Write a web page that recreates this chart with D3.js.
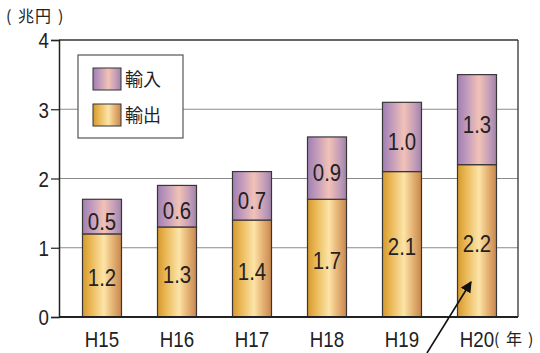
<!DOCTYPE html>
<html>
<head>
<meta charset="utf-8">
<script src="https://cdn.jsdelivr.net/npm/d3@7"></script>
<style>
  html, body { margin: 0; padding: 0; background: #fff; }
  svg { display: block; }
  text { font-family: "Liberation Sans", Arial, sans-serif; fill: #222; }
  .cjk { font-family: "Noto Sans CJK JP", sans-serif; }
</style>
</head>
<body>
<svg id="chart" width="540" height="353"></svg>
<script>
// Trade values (trillion yen) by fiscal year
const years = ["H15", "H16", "H17", "H18", "H19", "H20"];
const exports = [1.2, 1.3, 1.4, 1.7, 2.1, 2.2];
const imports = [0.5, 0.6, 0.7, 0.9, 1.0, 1.3];
const yTicks = [0, 1, 2, 3, 4];

const svg = d3.select("#chart");
const plotL = 59, plotR = 518, plotT = 40, plotB = 317;
const squeeze = 0.85; // horizontal condensing of numeric labels

const x = d3.scaleBand().domain(years).range([64.5, 514.5]).paddingInner(0.48).paddingOuter(0.24);
const y = d3.scaleLinear().domain([0, 4]).range([plotB, plotT]);

// Gradients for the bar fills
const defs = svg.append("defs");
function grad(id, stops) {
  const g = defs.append("linearGradient").attr("id", id).attr("x1", "0%").attr("x2", "100%").attr("y1", "0%").attr("y2", "0%");
  stops.forEach(([o, c]) => g.append("stop").attr("offset", o).attr("stop-color", c));
}
grad("gExp", [["0%", "#d49a2c"], ["20%", "#e9b653"], ["55%", "#fce4a8"], ["75%", "#e8b878"], ["100%", "#c8864e"]]);
grad("gImp", [["0%", "#9f80b2"], ["25%", "#c49cbc"], ["55%", "#f2c2b6"], ["80%", "#c8a0b8"], ["100%", "#a084ac"]]);

// Gridlines
svg.append("g").selectAll("line").data(yTicks.filter(d => d > 0 && d < 4)).join("line")
  .attr("x1", plotL).attr("x2", plotR)
  .attr("y1", d => y(d)).attr("y2", d => y(d))
  .attr("stroke", "#8a8a8a").attr("stroke-width", 1.2);

// Frame
svg.append("line").attr("x1", plotL).attr("x2", plotR).attr("y1", plotT).attr("y2", plotT).attr("stroke", "#333").attr("stroke-width", 1.3);
svg.append("line").attr("x1", plotR).attr("x2", plotR).attr("y1", plotT).attr("y2", plotB).attr("stroke", "#333").attr("stroke-width", 1.3);

// Legend
const lg = svg.append("g");
lg.append("rect").attr("x", 78).attr("y", 55).attr("width", 105).attr("height", 83)
  .attr("fill", "#fff").attr("stroke", "#555").attr("stroke-width", 1.2);
const legendItems = [["輸入", "url(#gImp)", 68], ["輸出", "url(#gExp)", 104]];
legendItems.forEach(([label, fill, yy]) => {
  lg.append("rect").attr("x", 93).attr("y", yy).attr("width", 28).attr("height", 22)
    .attr("fill", fill).attr("stroke", "#333").attr("stroke-width", 1);
  lg.append("text").attr("class", "cjk").attr("x", 125).attr("y", yy + 18)
    .attr("font-size", 18).text(label);
});

// Stacked bars
const data = years.map((yr, i) => ({ yr, exp: exports[i], imp: imports[i] }));
const bars = svg.append("g").selectAll("g").data(data).join("g");
bars.append("rect")
  .attr("x", d => x(d.yr)).attr("width", x.bandwidth())
  .attr("y", d => y(d.exp)).attr("height", d => y(0) - y(d.exp))
  .attr("fill", "url(#gExp)").attr("stroke", "#3a3636").attr("stroke-width", 1.2);
bars.append("rect")
  .attr("x", d => x(d.yr)).attr("width", x.bandwidth())
  .attr("y", d => y(d.exp + d.imp)).attr("height", d => y(d.exp) - y(d.exp + d.imp))
  .attr("fill", "url(#gImp)").attr("stroke", "#3a3636").attr("stroke-width", 1.2);
const cx = d => x(d.yr) + x.bandwidth() / 2;
bars.append("text")
  .attr("transform", d => `translate(${cx(d)},${(y(0) + y(d.exp)) / 2 + 11}) scale(${squeeze},1)`)
  .attr("text-anchor", "middle").attr("font-size", 24)
  .text(d => d.exp.toFixed(1));
bars.append("text")
  .attr("transform", d => `translate(${cx(d)},${(y(d.exp) + y(d.exp + d.imp)) / 2 + 13}) scale(${squeeze},1)`)
  .attr("text-anchor", "middle").attr("font-size", 24)
  .text(d => d.imp.toFixed(1));

// Y axis
const yAxis = svg.append("g").attr("transform", `translate(${plotL},0)`)
  .call(d3.axisLeft(y).tickValues(yTicks).tickSize(8).tickPadding(2).tickFormat(d3.format("d")));
yAxis.select(".domain").attr("stroke", "#222").attr("stroke-width", 1.5);
yAxis.selectAll(".tick line").attr("stroke", "#222").attr("stroke-width", 1.2);
yAxis.selectAll(".tick text").attr("font-size", 22).attr("fill", "#222")
  .attr("font-family", "Liberation Sans, Arial, sans-serif")
  .attr("x", null).attr("dy", "0.36em")
  .attr("transform", `translate(-10,0) scale(${squeeze},1)`);

// X axis
const xAxis = svg.append("g").attr("transform", `translate(0,${plotB})`)
  .call(d3.axisBottom(x).tickSize(0).tickPadding(0));
xAxis.select(".domain").remove();
svg.append("line").attr("x1", plotL).attr("x2", plotR).attr("y1", plotB).attr("y2", plotB)
  .attr("stroke", "#222").attr("stroke-width", 1.8);
xAxis.selectAll(".tick text").attr("font-size", 22).attr("fill", "#222")
  .attr("font-family", "Liberation Sans, Arial, sans-serif")
  .attr("dy", null).attr("y", 30)
  .attr("transform", `scale(${squeeze},1)`);

// Unit labels, with spaced-out brackets
function spaced(parts, baseline, size) {
  const t = svg.append("text").attr("class", "cjk").attr("y", baseline).attr("font-size", size);
  parts.forEach(([ch, px]) => t.append("tspan").attr("x", px).text(ch));
}
spaced([["(", 6], ["兆", 18], ["円", 35], [")", 58]], 22, 16);
spaced([["(", 494], ["年", 506], [")", 528]], 345, 16);

// Arrow pointing at the latest bar
defs.append("marker").attr("id", "arr").attr("viewBox", "0 0 10 10").attr("refX", 9).attr("refY", 5)
  .attr("markerWidth", 7).attr("markerHeight", 7).attr("orient", "auto")
  .append("path").attr("d", "M0,0 L10,5 L0,10 z").attr("fill", "#111");
svg.append("line").attr("x1", 427).attr("y1", 353).attr("x2", 471).attr("y2", 282)
  .attr("stroke", "#111").attr("stroke-width", 1.6).attr("marker-end", "url(#arr)");
</script>
</body>
</html>
